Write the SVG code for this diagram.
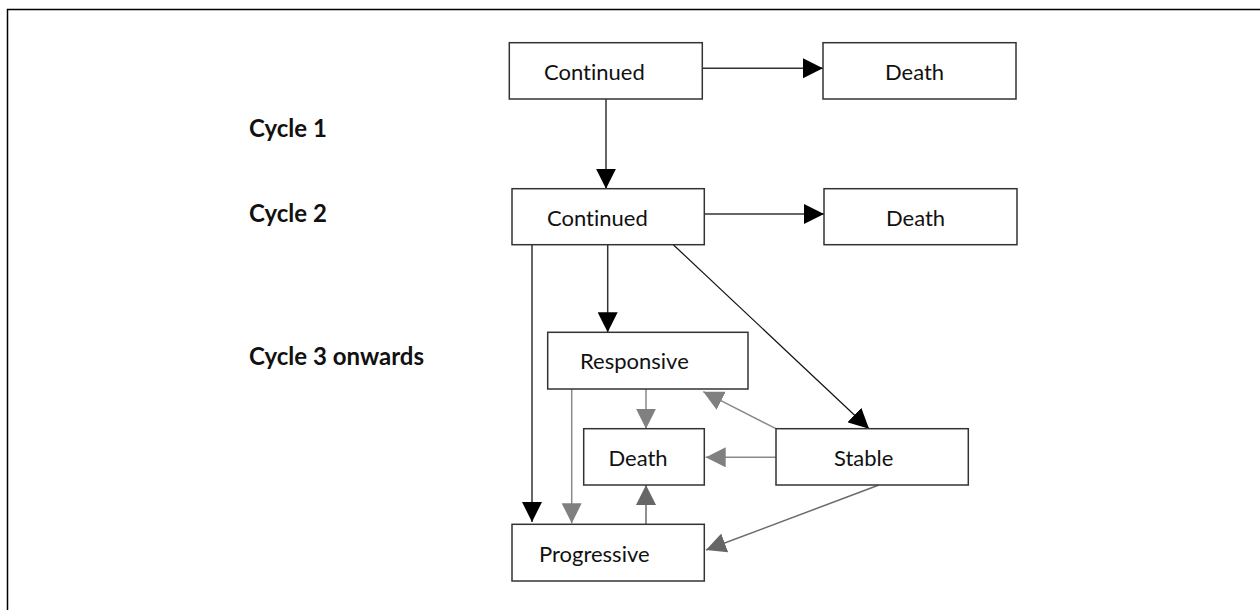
<svg xmlns="http://www.w3.org/2000/svg" width="1260" height="610" viewBox="0 0 1260 610">
<style>
.box{fill:#fff;stroke:#333;stroke-width:1.5}
.t{font-family:Lato,"Open Sans","Liberation Sans",sans-serif;font-size:22px;fill:#111;font-variant-ligatures:none}
.lbl{font-family:Lato,"Open Sans","Liberation Sans",sans-serif;font-size:24px;font-weight:bold;fill:#111;font-variant-ligatures:none}
.k{stroke:#333;stroke-width:1.5;fill:none}
.k1{stroke:#111;stroke-width:1.2;fill:none}
.g{stroke:#8a8a8a;stroke-width:1.5;fill:none}
.d{stroke:#6a6a6a;stroke-width:1.5;fill:none}
</style>
<defs>
<marker id="ak" markerUnits="userSpaceOnUse" markerWidth="20" markerHeight="20" refX="20" refY="10" orient="auto"><path d="M0,0 L20,10 L0,20 z" fill="#000"/></marker>
<marker id="ag" markerUnits="userSpaceOnUse" markerWidth="20" markerHeight="20" refX="20" refY="10" orient="auto"><path d="M0,0 L20,10 L0,20 z" fill="#808080"/></marker>
<marker id="ad" markerUnits="userSpaceOnUse" markerWidth="20" markerHeight="20" refX="20" refY="10" orient="auto"><path d="M0,0 L20,10 L0,20 z" fill="#666"/></marker>
</defs>
<rect width="1260" height="610" fill="#fff"/>
<path d="M7.5,610 L7.5,9.5 L1260,9.5" fill="none" stroke="#000" stroke-width="1.5"/>
<g id="labels">
<text class="lbl" x="249" y="137">Cycle 1</text>
<text class="lbl" x="249" y="222">Cycle 2</text>
<text class="lbl" x="249" y="365">Cycle 3 onwards</text>
</g>
<g id="connectors">
<line class="k" x1="702.3" y1="68.3" x2="822.9" y2="68.3" marker-end="url(#ak)"/>
<line class="k" x1="606" y1="99" x2="606" y2="188.7" marker-end="url(#ak)"/>
<line class="k" x1="704.3" y1="214" x2="824" y2="214" marker-end="url(#ak)"/>
<line class="k" x1="607.7" y1="244.7" x2="607.7" y2="332.3" marker-end="url(#ak)"/>
<line class="k1" x1="673.3" y1="244.7" x2="869" y2="428.7" marker-end="url(#ak)"/>
<line class="k" x1="532" y1="244.7" x2="532" y2="522" marker-end="url(#ak)"/>
<line class="g" x1="571.7" y1="389" x2="571.7" y2="523.3" marker-end="url(#ag)"/>
<line class="g" x1="646" y1="389" x2="646" y2="428.7" marker-end="url(#ag)"/>
<line class="g" x1="776" y1="428.7" x2="703.3" y2="391.7" marker-end="url(#ag)"/>
<line class="g" x1="776" y1="457.3" x2="705.7" y2="457.3" marker-end="url(#ag)"/>
<line class="d" x1="646" y1="524.3" x2="646" y2="485" marker-end="url(#ad)"/>
<line class="d" x1="878.3" y1="485.3" x2="706" y2="550" marker-end="url(#ad)"/>
</g>
<g id="continued1"><rect class="box" x="509.3" y="42.7" width="193" height="56.3"/><text class="t" x="544" y="80">Continued</text></g>
<g id="death1"><rect class="box" x="823" y="42.7" width="193" height="56.3"/><text class="t" x="885" y="80">Death</text></g>
<g id="continued2"><rect class="box" x="512" y="188.7" width="192.3" height="56"/><text class="t" x="547" y="226">Continued</text></g>
<g id="death2"><rect class="box" x="824" y="188.7" width="193" height="56"/><text class="t" x="886" y="226">Death</text></g>
<g id="responsive"><rect class="box" x="547.7" y="332.3" width="200.3" height="56.7"/><text class="t" x="580" y="369">Responsive</text></g>
<g id="death3"><rect class="box" x="583.7" y="428.7" width="120.6" height="56.3"/><text class="t" x="608.5" y="465.7">Death</text></g>
<g id="stable"><rect class="box" x="776" y="428.7" width="192.3" height="56.3"/><text class="t" x="834" y="465.7">Stable</text></g>
<g id="progressive"><rect class="box" x="512" y="524.3" width="192.3" height="56.7"/><text class="t" x="539" y="561.7">Progressive</text></g>
</svg>
